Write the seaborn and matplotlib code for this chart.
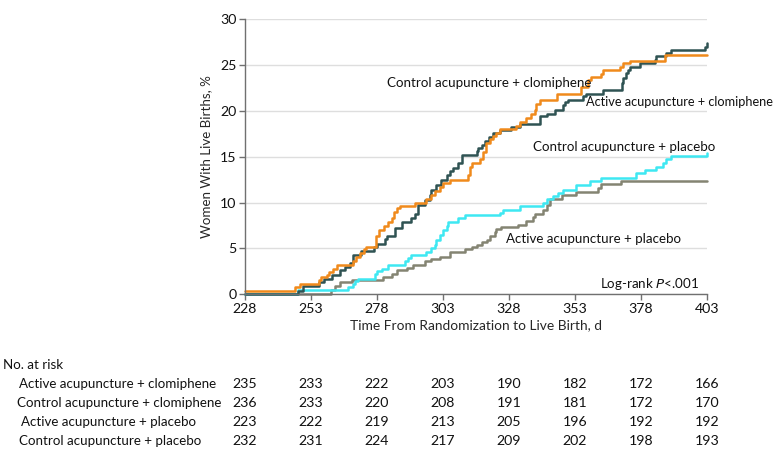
import numpy as np
import pandas as pd
import seaborn as sns
import matplotlib.pyplot as plt
from matplotlib.transforms import blended_transform_factory

# Step curves (day, cumulative % with live birth)
days_ac = [228, 248, 250, 256, 258, 261, 264, 266, 268, 269, 272, 277, 278, 281, 282, 284.8,
           287.4, 291.1, 292.4, 293.6, 296.2, 298.1, 298.7, 300.6, 302.5, 304.4, 305.7, 306.9,
           308.8, 310.1, 315.8, 316.4, 317.7, 319, 320.5, 322, 324.6, 329, 332.2, 339.7, 342.3,
           345.4, 348.6, 349.2, 350.5, 356.1, 357.4, 363.7, 371, 371.3, 372.6, 373.2, 373.8,
           377.6, 383.3, 383.9, 387.7, 389.6, 402.5, 403]
pct_ac = [0, 0.4, 0.85, 1.3, 1.7, 2.1, 2.6, 3.0, 3.4, 4.3, 4.7, 5.1, 5.5, 6.0, 6.4, 7.2,
          7.9, 8.3, 8.8, 9.7, 10.3, 10.8, 11.4, 11.9, 12.5, 13.0, 13.4, 13.8,
          14.3, 15.2, 15.6, 16.0, 16.3, 16.7, 17.2, 17.6, 17.9, 18.3, 18.6, 19.4, 19.7,
          20.1, 20.6, 21.0, 21.2, 21.6, 21.9, 22.3, 23.0, 23.6, 24.1, 24.5, 24.8,
          25.2, 25.6, 26.0, 26.3, 26.6, 27.0, 27.4]

days_cc = [228, 247, 249, 256, 257, 259, 260, 261.5, 263, 269, 270, 271.5, 273, 274, 277.6,
           279, 280.7, 282.3, 283.6, 284.4, 285.5, 286.7, 292.4, 296.8, 298.7, 300, 301.9,
           303.1, 305.7, 312.6, 313.2, 314.2, 317, 318.3, 319.3, 320.8, 322, 323.3, 324.6,
           330.9, 332.2, 334.4, 336.6, 337.8, 338.5, 339.7, 346.1, 355.5, 358, 359.3, 363.1,
           363.7, 370, 371.3, 373.8, 387.1, 403]
pct_cc = [0.4, 0.8, 1.1, 1.6, 1.9, 2.1, 2.4, 2.8, 3.2, 3.6, 4.1, 4.5, 4.9, 5.2, 6.3,
          7.0, 7.4, 7.9, 8.3, 9.0, 9.4, 9.6, 10.0, 10.4, 10.8, 11.3, 11.7,
          12.1, 12.5, 13.0, 13.9, 14.3, 14.7, 15.5, 16.5, 16.9, 17.3, 17.6, 18.0,
          18.4, 18.8, 19.2, 19.7, 20.1, 20.8, 21.2, 21.9, 22.6, 23.4, 23.7, 24.0,
          24.5, 24.8, 25.2, 25.5, 26.1, 26.1]

days_ap = [228, 260.8, 262.1, 264, 268.4, 280.4, 283.6, 285.5, 289.3, 291.8, 296.2, 298.7,
           301.9, 305.7, 311.3, 313.9, 315.8, 317.7, 319.6, 320.8, 322.7, 323.3, 325, 331.5,
           334.7, 337.2, 337.8, 341, 342.3, 343.5, 348, 353.6, 362, 363.1, 370.7, 403]
pct_ap = [0, 0.45, 0.9, 1.3, 1.6, 1.9, 2.2, 2.6, 2.9, 3.2, 3.6, 3.8,
          4.1, 4.6, 4.9, 5.2, 5.4, 5.7, 5.9, 6.3, 6.8, 7.1, 7.3, 7.6,
          8.0, 8.4, 8.8, 9.2, 9.7, 10.4, 10.8, 11.2, 11.6, 12.0, 12.4, 12.4]

days_cp = [228, 248, 267.1, 269, 269.7, 270.9, 277.2, 277.9, 279.8, 282.3, 288.6, 289.9,
           291.1, 296.8, 298.7, 300, 300.6, 301.9, 303.1, 304.4, 305, 308.8, 311.3, 324.6,
           325.8, 332.2, 341, 342.3, 344.8, 346.7, 348.6, 353.6, 358.7, 363.1, 376.4, 379.5,
           383.9, 386.5, 387.7, 389.6, 402.5, 403]
pct_cp = [0, 0.43, 0.8, 1.1, 1.4, 1.7, 2.2, 2.5, 2.8, 3.2, 3.6, 4.0,
          4.3, 4.6, 5.0, 5.4, 5.9, 6.5, 7.0, 7.4, 7.9, 8.3, 8.6, 8.9,
          9.2, 9.6, 10.0, 10.4, 10.7, 11.0, 11.4, 11.9, 12.3, 12.7, 13.2, 13.6,
          13.9, 14.3, 14.7, 15.1, 15.1, 15.4]

groups = ["Active acupuncture + clomiphene", "Control acupuncture + clomiphene",
          "Active acupuncture + placebo", "Control acupuncture + placebo"]
colors = ["#2f5353", "#f08a1c", "#848472", "#3ee8f2"]

time_ticks = [228, 253, 278, 303, 328, 353, 378, 403]
risk_ac = [235, 233, 222, 203, 190, 182, 172, 166]
risk_cc = [236, 233, 220, 208, 191, 181, 172, 170]
risk_ap = [223, 222, 219, 213, 205, 196, 192, 192]
risk_cp = [232, 231, 224, 217, 209, 202, 198, 193]

df = pd.concat([
    pd.DataFrame({"day": days_ac, "pct": pct_ac, "group": groups[0]}),
    pd.DataFrame({"day": days_cc, "pct": pct_cc, "group": groups[1]}),
    pd.DataFrame({"day": days_ap, "pct": pct_ap, "group": groups[2]}),
    pd.DataFrame({"day": days_cp, "pct": pct_cp, "group": groups[3]}),
], ignore_index=True)

sns.set_theme(style="white")
plt.rcParams["font.family"] = ["Lato", "DejaVu Sans"]
plt.rcParams["text.color"] = "#111111"

fig = plt.figure(figsize=(7.8, 4.59), dpi=100)
ax = fig.add_axes([0.314, 0.359, 0.592, 0.599])

ax.yaxis.grid(True, color="#dedede", linewidth=1)
ax.set_axisbelow(True)

# draw placebo groups first so the clomiphene curves sit on top
for g in [groups[2], groups[3], groups[0], groups[1]]:
    sub = df[df["group"] == g]
    sns.lineplot(data=sub, x="day", y="pct", color=colors[groups.index(g)],
                 drawstyle="steps-post", estimator=None, sort=False,
                 linewidth=1.8, ax=ax, legend=False, clip_on=False)

ax.set_xlim(228, 403)
ax.set_ylim(0, 30)
ax.set_xticks(time_ticks)
ax.set_yticks(range(0, 31, 5))
for s in ["top", "right"]:
    ax.spines[s].set_visible(False)
for s in ["left", "bottom"]:
    ax.spines[s].set_color("#707070")
    ax.spines[s].set_linewidth(1)

fs = 9.6
ax.tick_params(axis="both", direction="out", length=4, width=1, color="#707070",
               labelsize=fs + 0.6, labelcolor="#111111", pad=2)
ax.tick_params(axis="both", which="both", bottom=True, left=True)

ax.set_xlabel("Time From Randomization to Live Birth, d", fontsize=fs + 0.3, labelpad=3)
ax.set_ylabel("Women With Live Births, %", fontsize=fs, labelpad=6)

ax.text(281.7, 23.1, groups[1], fontsize=fs, ha="left", va="center")
ax.text(428, 21.0, groups[0], fontsize=fs - 0.4, ha="right", va="center")
ax.text(337.1, 16.1, groups[3], fontsize=fs, ha="left", va="center")
ax.text(326.9, 6.0, groups[2], fontsize=fs, ha="left", va="center")
ax.text(400, 1.1, "Log-rank $\\it{P}$<.001", fontsize=fs, ha="right", va="center")

# number at risk table
tr = blended_transform_factory(ax.transData, fig.transFigure)
fig.text(3 / 780, 1 - 365 / 459, "No. at risk", fontsize=fs, ha="left", va="center")
rows = [risk_ac, risk_cc, risk_ap, risk_cp]
row_y = [384, 403, 422, 441]
row_x = [19, 17, 21, 19]
for name, vals, y, x in zip(groups, rows, row_y, row_x):
    fy = 1 - y / 459
    fig.text(x / 780, fy, name, fontsize=fs, ha="left", va="center")
    for t, v in zip(time_ticks, vals):
        ax.text(t, fy, str(v), fontsize=fs + 0.6, ha="center", va="center",
                transform=tr, clip_on=False)

plt.savefig("out.png", dpi=100)
